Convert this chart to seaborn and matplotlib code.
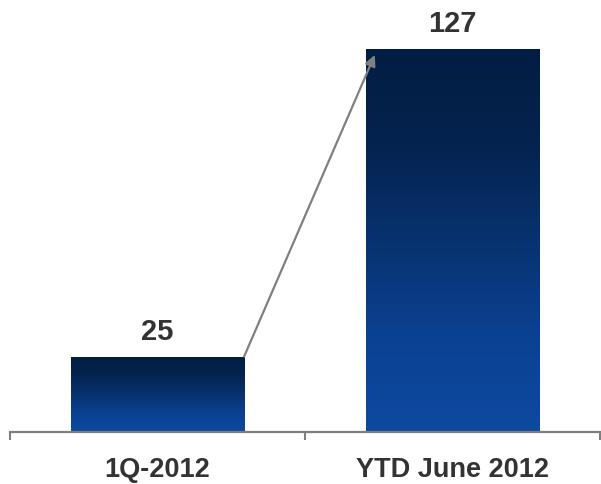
import numpy as np
import pandas as pd
import matplotlib
matplotlib.use('Agg')
import matplotlib.pyplot as plt
from matplotlib.colors import LinearSegmentedColormap
import seaborn as sns

# data
categories = ['1Q-2012', 'YTD June 2012']
values = [25, 127]

df = pd.DataFrame({'period': categories, 'value': values})

sns.set_style('white')
plt.rcParams['font.family'] = ['Liberation Sans', 'DejaVu Sans']

fig = plt.figure(figsize=(6.01, 4.84), dpi=100)
ax = fig.add_axes([10 / 601, 52 / 484, 590 / 601, 432 / 484])

sns.barplot(data=df, x='period', y='value', ax=ax, width=0.587,
            color='#0c4a9c', saturation=1)

ax.set_xlim(-0.5, 1.5)
ax.set_ylim(0, 143.2)

# gradient fill for each bar: dark navy top -> blue bottom
cmap = LinearSegmentedColormap.from_list(
    'navy', ['#0d4aa0', '#0b4192', '#08326f', '#04234f', '#021d42'])
grad = np.linspace(0, 1, 256).reshape(-1, 1)
for bar in ax.patches:
    x0, y0 = bar.get_x(), bar.get_y()
    w, h = bar.get_width(), bar.get_height()
    im = ax.imshow(grad, cmap=cmap, origin='lower', aspect='auto',
                   extent=[x0, x0 + w, y0, y0 + h], zorder=2)
    im.set_clip_path(bar)
    bar.set_edgecolor('#9fb6d6')
    bar.set_linewidth(0.6)
    ax.text(x0 + w / 2, y0 + h + 3.5, f'{int(h)}', ha='center', va='bottom',
            fontsize=21, fontweight='bold', color='#333333')

# arrow between bar tops
b1, b2 = ax.patches[0], ax.patches[1]
ax.annotate('', xy=(b2.get_x() + 0.03, b2.get_height() - 2),
            xytext=(b1.get_x() + b1.get_width(), b1.get_height()),
            arrowprops=dict(arrowstyle='-|>', color='#808080', lw=1.6,
                            mutation_scale=16, shrinkA=0, shrinkB=0),
            zorder=5)

# axes styling
for s in ['top', 'right', 'left']:
    ax.spines[s].set_visible(False)
ax.spines['bottom'].set_color('#7f7f7f')
ax.spines['bottom'].set_linewidth(1.6)
ax.set_yticks([])
ax.set_xlabel('')
ax.set_ylabel('')

ax.set_xticks([-0.5, 0.5, 1.5])
ax.set_xticklabels([])
ax.set_xticks([0, 1], minor=True)
ax.set_xticklabels(categories, minor=True)
ax.tick_params(axis='x', which='major', direction='out', length=6,
               width=1.5, color='#7f7f7f', bottom=True)
ax.tick_params(axis='x', which='minor', length=0, pad=18,
               labelsize=19.5, labelcolor='#333333')
for lbl in ax.get_xticklabels(minor=True):
    lbl.set_fontweight('bold')

fig.savefig('out.png', dpi=100)
